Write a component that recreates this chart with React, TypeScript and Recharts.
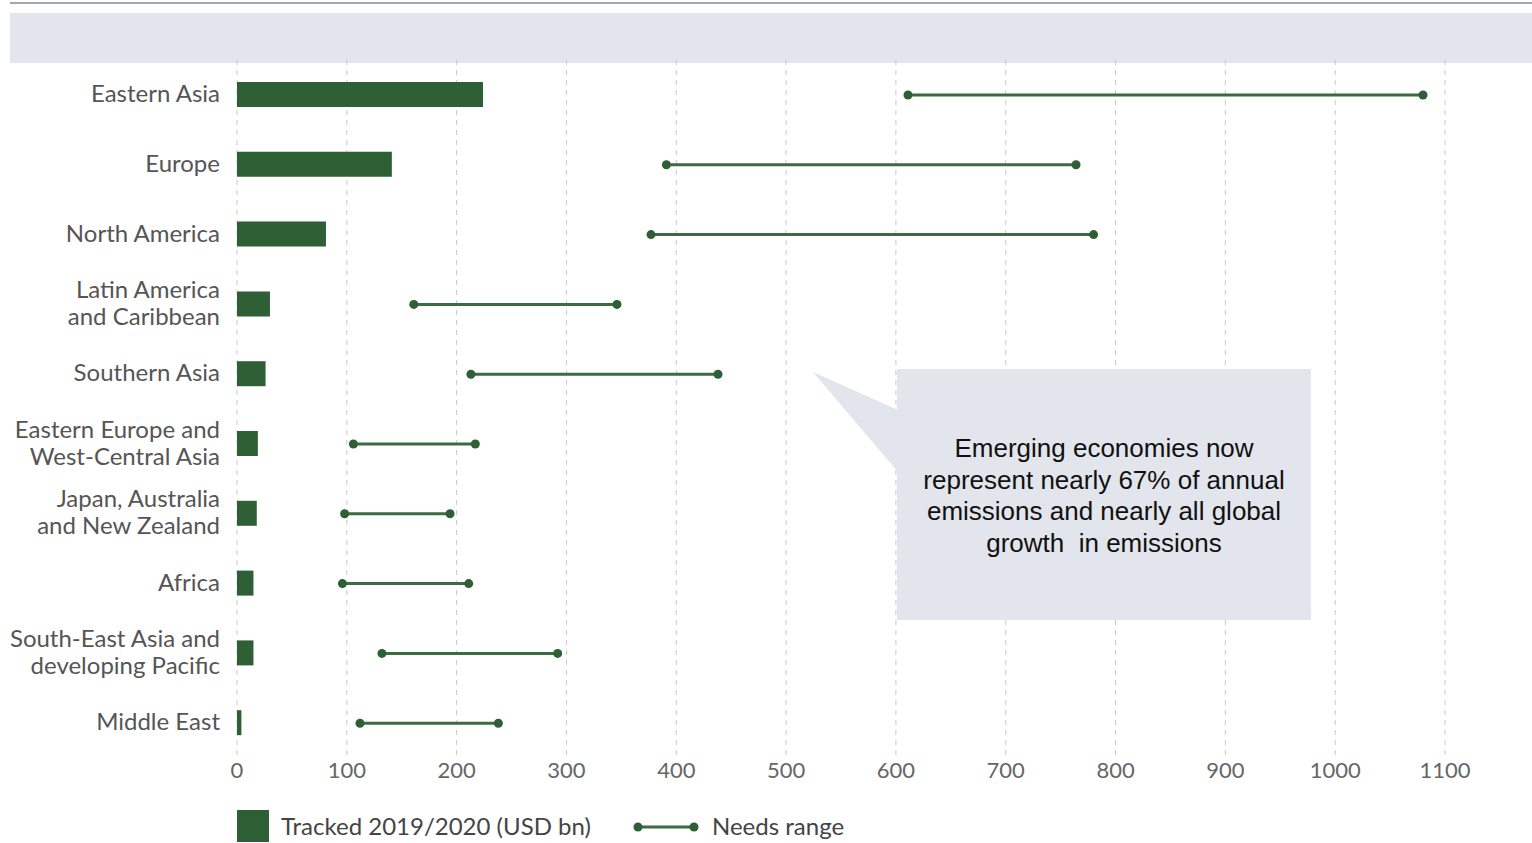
import React from "react";
import {
  ComposedChart,
  Bar,
  XAxis,
  YAxis,
  CartesianGrid,
} from "recharts";

const categories = [
  "Eastern Asia",
  "Europe",
  "North America",
  "Latin America\nand Caribbean",
  "Southern Asia",
  "Eastern Europe and\nWest-Central Asia",
  "Japan, Australia\nand New Zealand",
  "Africa",
  "South-East Asia and\ndeveloping Pacific",
  "Middle East",
];
const tracked = [224, 141, 81, 30, 26, 19, 18, 15, 15, 4];
const needsLow = [611, 391, 377, 161, 213, 106, 98, 96, 132, 112];
const needsHigh = [1080, 764, 780, 346, 438, 217, 194, 211, 292, 238];
const xTicks = [0, 100, 200, 300, 400, 500, 600, 700, 800, 900, 1000, 1100];

const GREEN = "#2f5f35";
const LINE_GREEN = "#3b6b40";
const FONT = "Lato, 'Noto Sans', sans-serif";

const data = categories.map((name, i) => ({
  name,
  tracked: tracked[i],
  needs: [needsLow[i], needsHigh[i]],
}));

function CategoryTick({ x, y, payload }: any) {
  const lines = String(payload.value).split("\n");
  const lh = 27;
  const start = (-(lines.length - 1) * lh) / 2;
  return (
    <text x={x} y={y} textAnchor="end" fill="#555" fontSize={24} fontFamily={FONT}>
      {lines.map((l, i) => (
        <tspan key={i} x={x} y={y + start + i * lh} dy="0.3em">
          {l}
        </tspan>
      ))}
    </text>
  );
}

function RangeShape({ x, y, width, height }: any) {
  const cy = y + height / 2;
  return (
    <g>
      <line x1={x} x2={x + width} y1={cy} y2={cy} stroke={LINE_GREEN} strokeWidth={3} />
      <circle cx={x} cy={cy} r={4.5} fill={GREEN} />
      <circle cx={x + width} cy={cy} r={4.5} fill={GREEN} />
    </g>
  );
}

export default function App() {
  return (
    <div
      style={{
        position: "absolute",
        left: 0,
        top: 0,
        width: 1532,
        height: 843,
        background: "#fff",
        overflow: "hidden",
        fontFamily: FONT,
      }}
    >
      <div style={{ position: "absolute", left: 10, top: 2, width: 1522, height: 2, background: "#a3a8ae" }} />
      <div style={{ position: "absolute", left: 10, top: 13, width: 1522, height: 50, background: "#e2e5eb" }} />

      <div style={{ position: "absolute", left: 0, top: 0 }}>
        <ComposedChart
          width={1532}
          height={790}
          data={data}
          layout="vertical"
          margin={{ top: 60, right: 87, left: 0, bottom: 0 }}
          barCategoryGap={0}
        >
          <CartesianGrid horizontal={false} strokeDasharray="5 5" stroke="#c9c9c9" />
          <XAxis
            type="number"
            domain={[0, 1100]}
            ticks={xTicks}
            interval={0}
            axisLine={false}
            tickLine={false}
            tick={{ fontSize: 22, fill: "#666", fontFamily: FONT }}
            tickMargin={-2}
            height={32}
          />
          <YAxis
            yAxisId="a"
            type="category"
            dataKey="name"
            width={237}
            axisLine={false}
            tickLine={false}
            tickMargin={11}
            interval={0}
            tick={<CategoryTick />}
          />
          <YAxis yAxisId="b" type="category" dataKey="name" hide />
          <Bar yAxisId="a" dataKey="tracked" fill={GREEN} barSize={25} isAnimationActive={false} />
          <Bar yAxisId="b" dataKey="needs" barSize={10} shape={<RangeShape />} isAnimationActive={false} />
        </ComposedChart>
      </div>

      <svg style={{ position: "absolute", left: 0, top: 0 }} width={1532} height={843}>
        <polygon points="813,372 898,410 898,472" fill="#e2e5eb" />
        <rect x={897} y={369} width={414} height={251} fill="#e2e5eb" />
      </svg>
      <div
        style={{
          position: "absolute",
          left: 880,
          top: 433,
          width: 448,
          textAlign: "center",
          fontFamily: "'Liberation Sans', Arial, sans-serif",
          fontSize: 26,
          lineHeight: "31.5px",
          color: "#111",
        }}
      >
        Emerging economies now
        <br />
        represent nearly 67% of annual
        <br />
        emissions and nearly all global
        <br />
        growth&nbsp; in emissions
      </div>

      <div style={{ position: "absolute", left: 237, top: 810, width: 32, height: 32, background: GREEN }} />
      <div style={{ position: "absolute", left: 281, top: 810, fontSize: 24, color: "#444", lineHeight: "32px" }}>
        Tracked 2019/2020 (USD bn)
      </div>
      <svg style={{ position: "absolute", left: 630, top: 817 }} width={72} height={20}>
        <line x1={8} x2={64} y1={10} y2={10} stroke={LINE_GREEN} strokeWidth={3} />
        <circle cx={8} cy={10} r={4.5} fill={GREEN} />
        <circle cx={64} cy={10} r={4.5} fill={GREEN} />
      </svg>
      <div style={{ position: "absolute", left: 712, top: 810, fontSize: 24, color: "#444", lineHeight: "32px" }}>
        Needs range
      </div>
    </div>
  );
}
